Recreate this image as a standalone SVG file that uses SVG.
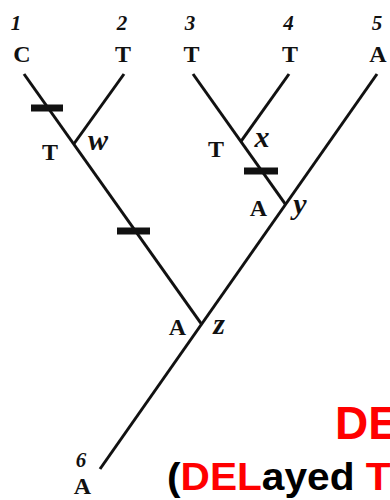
<svg xmlns="http://www.w3.org/2000/svg" width="390" height="500" viewBox="0 0 390 500">
<style>
.br{stroke:#111;stroke-width:3;fill:none;stroke-linecap:butt}
.bar{fill:#111}
.lf{font-family:"Liberation Serif","Times New Roman",serif;font-weight:bold;font-size:24px;fill:#111;text-anchor:middle}
.num{font-family:"Liberation Serif","Times New Roman",serif;font-weight:bold;font-style:italic;font-size:21px;fill:#111;text-anchor:middle}
.nd{font-family:"Liberation Serif","Times New Roman",serif;font-weight:bold;font-style:italic;font-size:30px;fill:#111;text-anchor:middle}
.ttl{font-family:"Liberation Sans",Arial,sans-serif;font-weight:bold;fill:#000}
.red{fill:#ff0000}
</style>
<g id="connectors">
<line class="br" x1="24" y1="74" x2="201.5" y2="324.2"/>
<line class="br" x1="124" y1="74" x2="73.8" y2="144"/>
<line class="br" x1="193" y1="74" x2="285.5" y2="204.4"/>
<line class="br" x1="289" y1="74" x2="240.8" y2="141.6"/>
<line class="br" x1="377" y1="74" x2="100" y2="469"/>
<rect class="bar" x="31" y="104.5" width="32" height="7"/>
<rect class="bar" x="117" y="227.5" width="33" height="7"/>
<rect class="bar" x="244" y="167.5" width="34" height="7"/>
</g>
<g id="leaf1"><text class="num" x="16" y="30">1</text><text class="lf" x="22" y="62">C</text></g>
<g id="leaf2"><text class="num" x="122" y="30">2</text><text class="lf" x="123" y="62">T</text></g>
<g id="leaf3"><text class="num" x="190" y="30">3</text><text class="lf" x="191.5" y="62">T</text></g>
<g id="leaf4"><text class="num" x="288.5" y="30">4</text><text class="lf" x="290" y="62">T</text></g>
<g id="leaf5"><text class="num" x="377" y="30">5</text><text class="lf" x="378" y="62">A</text></g>
<g id="leaf6"><text class="num" x="81" y="467">6</text><text class="lf" x="82.5" y="494">A</text></g>
<g id="node-w"><text class="lf" x="50" y="160">T</text><text class="nd" x="98" y="150">w</text></g>
<g id="node-x"><text class="lf" x="216" y="157">T</text><text class="nd" x="262" y="147">x</text></g>
<g id="node-y"><text class="lf" x="258.5" y="216">A</text><text class="nd" x="300" y="214">y</text></g>
<g id="node-z"><text class="lf" x="177.5" y="335">A</text><text class="nd" x="219" y="334">z</text></g>
<g id="title">
<text class="ttl red" x="335" y="439" font-size="46">DE</text>
<text class="ttl" transform="translate(167,490) scale(1.07,1)" font-size="38">(<tspan class="red">DEL</tspan>ayed <tspan class="red">T</tspan></text>
</g>
</svg>
